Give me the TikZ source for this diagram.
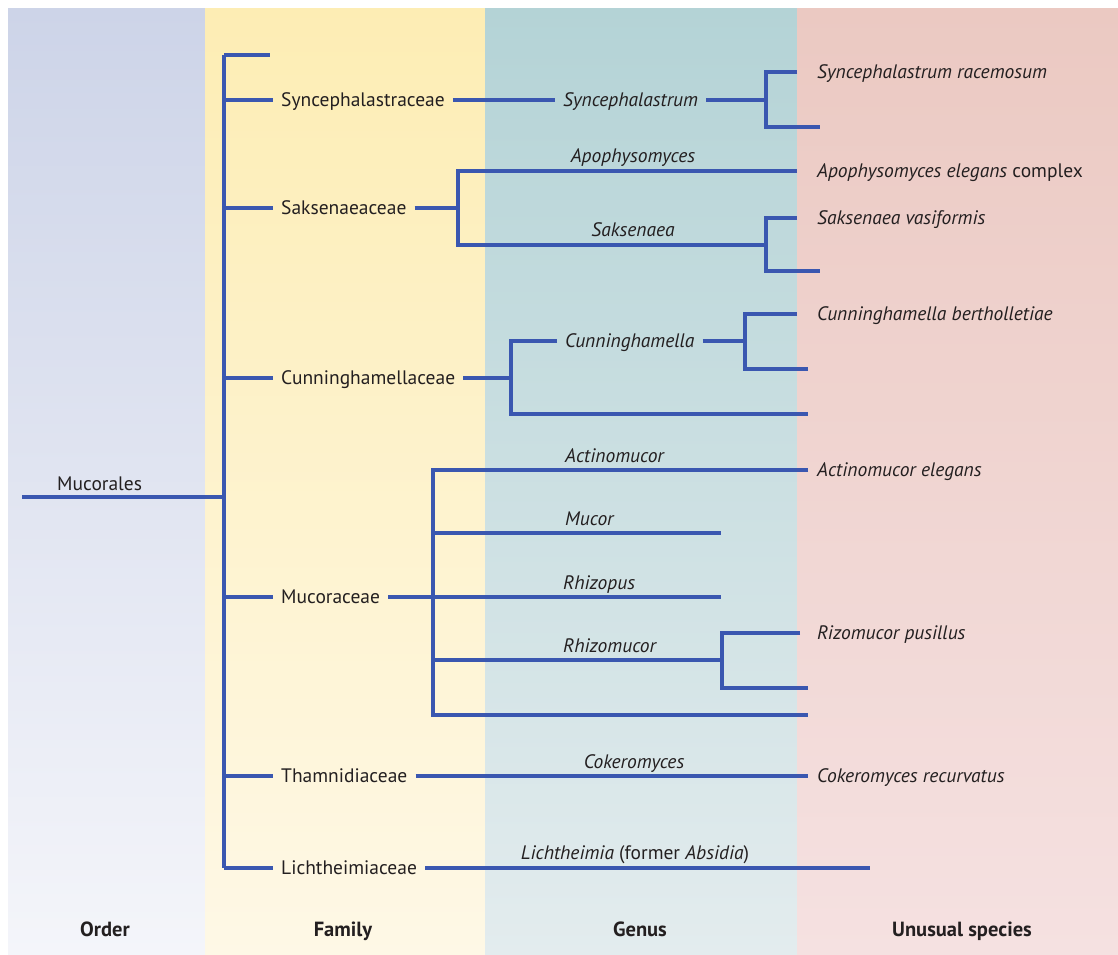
\documentclass[tikz,border=0pt]{standalone}
\usepackage{fontspec}
\setmainfont{PT Sans}
\usepackage{tikz}

\definecolor{treeblue}{HTML}{3A57B0}
\definecolor{txt}{HTML}{231F20}
\definecolor{ordtop}{HTML}{CDD4E8}\definecolor{ordbot}{HTML}{F4F5FA}
\definecolor{famtop}{HTML}{FDEDB4}\definecolor{fambot}{HTML}{FEF8E6}
\definecolor{gentop}{HTML}{B4D3D6}\definecolor{genbot}{HTML}{E3ECEE}
\definecolor{spetop}{HTML}{EBC9C2}\definecolor{spebot}{HTML}{F5E1E1}
\newcommand{\labfont}{\fontsize{19.5}{23}\selectfont}

\begin{document}
\begin{tikzpicture}[x=1pt,y=-1pt]
	\tikzstyle{every node}+=[inner sep=0pt, text=txt]
	\tikzstyle{lab}=[font=\labfont, anchor=west, text height=13.5pt, text depth=0pt]
	\tikzstyle{ilab}=[lab, font=\labfont\itshape]
	\tikzstyle{genus}=[font=\labfont\itshape, anchor=base]
	\tikzstyle{head}=[font=\fontsize{20.5}{24}\selectfont\bfseries, anchor=base]
	\tikzstyle{tree}=[draw=treeblue, line width=3.6pt]
	\useasboundingbox (0,0) rectangle (1118,954);
	% columns
	\shade[top color=ordtop, bottom color=ordbot] (8,8) rectangle (205,954);
	\shade[top color=famtop, bottom color=fambot] (205,8) rectangle (485,954);
	\shade[top color=gentop, bottom color=genbot] (485,8) rectangle (797,954);
	\shade[top color=spetop, bottom color=spebot] (797,8) rectangle (1118,954);
	\node[head] (h1) at (105,936) {Order};
	\node[head] (h2) at (343,936) {Family};
	\node[head] (h3) at (640,936) {Genus};
	\node[head] (h4) at (962,936) {Unusual species};
	% order
	\coordinate (o0) at (22,497);
	\coordinate (o1) at (224,497);
	\node[font=\labfont, anchor=base west] (muc) at (57,490) {Mucorales};
	\draw[tree] (o0) -- (o1);
	\coordinate (top) at (224,55);
	\coordinate (bot) at (224,868);
	\draw[tree] (top) -- (bot);
	\coordinate (f0) at (270,55);
	\draw[tree] (top) -- (f0);
	% families
	\node[lab] (syn) at (281,100) {Syncephalastraceae};
	\node[lab] (sak) at (281,208) {Saksenaeaceae};
	\node[lab] (cun) at (281,378) {Cunninghamellaceae};
	\node[lab] (mucor) at (281,597) {Mucoraceae};
	\node[lab] (tha) at (281,776) {Thamnidiaceae};
	\node[lab] (lic) at (281,868) {Lichtheimiaceae};
	\foreach \f in {syn,sak,cun,mucor,tha,lic}
		\draw[tree] (top |- \f.west) -- ([xshift=-8pt]\f.west);
	% Syncephalastraceae
	\node[ilab] (gsyn) at (563,100) {Syncephalastrum};
	\coordinate (js) at (766,100);
	\coordinate (js1) at (797,72);
	\coordinate (js2) at (820,127);
	\draw[tree] ([xshift=8pt]syn.east) -- ([xshift=-8pt]gsyn.west);
	\draw[tree] ([xshift=8pt]gsyn.east) -- (js);
	\draw[tree] (js1) -| (js |- js2) -- (js2);
	\node[ilab] (ssyn) at (817,72) {Syncephalastrum racemosum};
	% Saksenaeaceae
	\coordinate (jk) at (458,208);
	\coordinate (apo) at (797,171);
	\coordinate (jv) at (766,245);
	\draw[tree] ([xshift=8pt]sak.east) -- (jk);
	\draw[tree] (apo) -| (jk |- jv) -- (jv);
	\node[genus] (gapo) at (633,162) {Apophysomyces};
	\node[genus] (gsak) at (633,236) {Saksenaea};
	\node[lab] (sapo) at (817,171) {\itshape Apophysomyces elegans\/ \upshape complex};
	\coordinate (jv1) at (797,218);
	\coordinate (jv2) at (820,271);
	\draw[tree] (jv1) -| (jv |- jv2) -- (jv2);
	\node[ilab] (ssak) at (817,218) {Saksenaea vasiformis};
	% Cunninghamellaceae
	\coordinate (jc) at (511,378);
	\node[ilab] (gcun) at (565,341) {Cunninghamella};
	\coordinate (jc2) at (808,414);
	\draw[tree] ([xshift=8pt]cun.east) -- (jc);
	\draw[tree] ([xshift=-8pt]gcun.west) -| (jc |- jc2) -- (jc2);
	\coordinate (jg) at (745,341);
	\coordinate (jg1) at (797,314);
	\coordinate (jg2) at (808,369);
	\draw[tree] ([xshift=8pt]gcun.east) -- (jg);
	\draw[tree] (jg1) -| (jg |- jg2) -- (jg2);
	\node[ilab] (scun) at (817,314) {Cunninghamella bertholletiae};
	% Mucoraceae
	\coordinate (jm) at (433,597);
	\coordinate (act) at (808,470);
	\coordinate (mu) at (721,533);
	\coordinate (rhi) at (721,597);
	\coordinate (rz) at (722,660);
	\coordinate (last) at (808,715);
	\draw[tree] ([xshift=8pt]mucor.east) -- (jm);
	\draw[tree] (act) -| (jm |- last) -- (last);
	\draw[tree] (jm |- mu) -- (mu);
	\draw[tree] (jm) -- (rhi);
	\draw[tree] (jm |- rz) -- (rz);
	\node[genus, anchor=base west] (gact) at (565,462) {Actinomucor};
	\node[genus, anchor=base west] (gmu) at (565,525) {Mucor};
	\node[genus, anchor=base west] (grhi) at (563,589) {Rhizopus};
	\node[genus, anchor=base west] (grz) at (563,652) {Rhizomucor};
	\node[ilab] (sact) at (817,470) {Actinomucor elegans};
	\coordinate (jr1) at (800,633);
	\coordinate (jr2) at (808,688);
	\draw[tree] (jr1) -| (rz |- jr2) -- (jr2);
	\node[ilab] (srz) at (817,633) {Rizomucor pusillus};
	% Thamnidiaceae
	\coordinate (cok) at (808,776);
	\draw[tree] ([xshift=8pt]tha.east) -- (cok);
	\node[genus] (gcok) at (634,768) {Cokeromyces};
	\node[ilab] (scok) at (817,776) {Cokeromyces recurvatus};
	% Lichtheimiaceae
	\coordinate (lend) at (870,868);
	\draw[tree] ([xshift=8pt]lic.east) -- (lend);
	\node[genus] (glic) at (635,859) {Lichtheimia \upshape(former \itshape Absidia\/\upshape)};
\end{tikzpicture}
\end{document}
